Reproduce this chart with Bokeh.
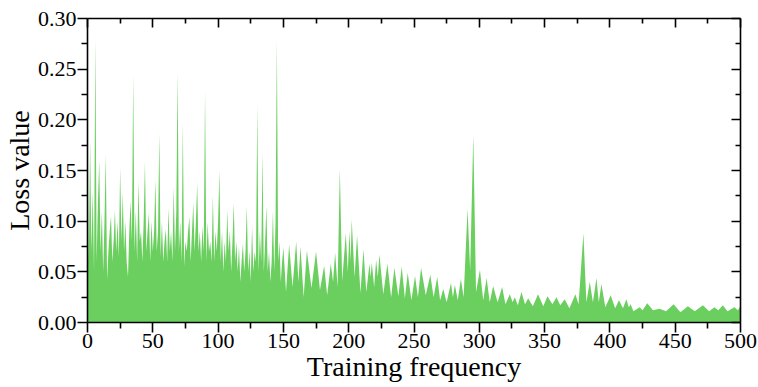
from bokeh.plotting import figure
from bokeh.models import (Range1d, LinearAxis, FixedTicker, PrintfTickFormatter,
                          CustomJSTickFormatter)
from bokeh.embed import file_html
from bokeh.resources import INLINE

# ---- data ----
freq_early = list(range(0, 151))
loss_early = [
    0.170, 0.060, 0.180, 0.070, 0.130, 0.050, 0.281, 0.060, 0.120, 0.160,
    0.070, 0.110, 0.050, 0.100, 0.166, 0.042, 0.070, 0.090, 0.105, 0.060,
    0.080, 0.111, 0.070, 0.100, 0.065, 0.153, 0.080, 0.128, 0.070, 0.100,
    0.060, 0.045, 0.090, 0.120, 0.080, 0.245, 0.070, 0.110, 0.060, 0.140,
    0.080, 0.090, 0.060, 0.100, 0.159, 0.070, 0.090, 0.108, 0.060, 0.100,
    0.070, 0.090, 0.141, 0.070, 0.090, 0.187, 0.065, 0.100, 0.060, 0.080,
    0.092, 0.060, 0.113, 0.070, 0.090, 0.060, 0.134, 0.070, 0.110, 0.247,
    0.070, 0.100, 0.060, 0.197, 0.055, 0.080, 0.070, 0.090, 0.104, 0.060,
    0.090, 0.118, 0.070, 0.100, 0.138, 0.070, 0.090, 0.060, 0.095, 0.070,
    0.229, 0.060, 0.099, 0.070, 0.080, 0.060, 0.125, 0.060, 0.090, 0.070,
    0.100, 0.150, 0.060, 0.090, 0.050, 0.080, 0.060, 0.111, 0.070, 0.090,
    0.050, 0.080, 0.118, 0.060, 0.080, 0.050, 0.075, 0.040, 0.060, 0.078,
    0.050, 0.070, 0.115, 0.050, 0.070, 0.040, 0.095, 0.050, 0.070, 0.060,
    0.215, 0.050, 0.090, 0.060, 0.168, 0.050, 0.080, 0.115, 0.050, 0.070,
    0.040, 0.060, 0.110, 0.050, 0.100, 0.279, 0.060, 0.080, 0.040, 0.060,
    0.074,
]
freq_late = [
    152, 154.4, 157, 159.8, 161.5, 163.1, 165.5, 168, 171.5, 175,
    178, 181.2, 183.5, 186.3, 188, 189.6, 191.5, 193.2, 195, 197.8,
    199.3, 200.6, 201.5, 202.3, 204.5, 206.4, 209, 211.3, 213.5, 215.9,
    216.8, 217.7, 219.5, 221, 222.3, 223.5, 226.5, 229.6, 232.5, 235,
    238, 240.6, 243, 245.2, 248, 250.8, 253, 255.4, 259, 262.5,
    265, 267.8, 270, 272.4, 275, 278.3, 279.8, 281.3, 283.5, 285.9,
    288, 291, 293, 295.4, 297.5, 300.5, 303, 305.6, 308, 310.6,
    314, 317.5, 320, 323.4, 325.5, 327.2, 329.5, 332.3, 335, 337.4,
    341, 345, 349, 352.2, 356, 359.1, 362, 365.4, 369, 373.6,
    376, 379.7, 382, 384.6, 387, 389.7, 391.5, 393.5, 396.5, 400.6,
    404, 407, 410, 412.6, 414.5, 415.9, 418, 422.8, 425, 428.6,
    433, 438, 443, 448.8, 454, 459.7, 465, 471.2, 476, 480,
    483, 486.5, 490, 495.4, 498, 500,
]
loss_late = [
    0.030, 0.077, 0.035, 0.080, 0.040, 0.075, 0.025, 0.071, 0.034, 0.070,
    0.032, 0.056, 0.027, 0.058, 0.040, 0.069, 0.035, 0.152, 0.041, 0.088,
    0.050, 0.090, 0.060, 0.102, 0.045, 0.086, 0.029, 0.072, 0.030, 0.058,
    0.045, 0.059, 0.035, 0.062, 0.045, 0.067, 0.028, 0.058, 0.025, 0.054,
    0.026, 0.055, 0.024, 0.049, 0.022, 0.046, 0.025, 0.054, 0.027, 0.047,
    0.025, 0.045, 0.022, 0.033, 0.020, 0.039, 0.025, 0.037, 0.022, 0.043,
    0.025, 0.112, 0.051, 0.185, 0.030, 0.052, 0.022, 0.044, 0.020, 0.036,
    0.020, 0.035, 0.018, 0.028, 0.020, 0.025, 0.017, 0.030, 0.018, 0.024,
    0.016, 0.028, 0.016, 0.026, 0.018, 0.025, 0.017, 0.023, 0.014, 0.028,
    0.018, 0.088, 0.020, 0.040, 0.020, 0.044, 0.020, 0.038, 0.015, 0.027,
    0.014, 0.022, 0.014, 0.023, 0.015, 0.018, 0.011, 0.015, 0.012, 0.019,
    0.012, 0.0135, 0.011, 0.018, 0.010, 0.016, 0.011, 0.017, 0.011, 0.015,
    0.012, 0.017, 0.011, 0.015, 0.012, 0.016,
]
freq = freq_early + freq_late
loss = loss_early + loss_late

x_major = [0, 50, 100, 150, 200, 250, 300, 350, 400, 450, 500]
x_minor = [25, 75, 125, 175, 225, 275, 325, 375, 425, 475]
y_major = [0.00, 0.05, 0.10, 0.15, 0.20, 0.25, 0.30]
y_minor = [0.025, 0.075, 0.125, 0.175, 0.225, 0.275]

x_title = "Training frequency"
y_title = "Loss value"

FONT = "Liberation Serif"
GREEN = "#6bcf60"

p = figure(width=758, height=387, output_backend="svg", toolbar_location=None,
           x_range=Range1d(0, 500), y_range=Range1d(0, 0.30),
           min_border_left=86, min_border_right=18, min_border_top=18,
           min_border_bottom=65)
p.outline_line_color = None
p.xgrid.visible = False
p.ygrid.visible = False
p.background_fill_color = "white"
p.border_fill_color = "white"

p.varea(x=freq, y1=[0] * len(freq), y2=loss, fill_color=GREEN)

xt = FixedTicker(ticks=x_major, minor_ticks=x_minor)
yt = FixedTicker(ticks=y_major, minor_ticks=y_minor)

def style(ax, ticks_in):
    ax.axis_line_color = "black"
    ax.axis_line_width = 1.6
    ax.major_tick_line_color = "black"
    ax.major_tick_line_width = 1.6
    ax.minor_tick_line_color = "black"
    ax.minor_tick_line_width = 1.6
    if ticks_in:
        ax.major_tick_in, ax.major_tick_out = 9, 0
        ax.minor_tick_in, ax.minor_tick_out = 5, 0
        ax.formatter = CustomJSTickFormatter(code="return '';")
        ax.major_label_standoff = 0
    else:
        ax.major_tick_in, ax.major_tick_out = 0, 10
        ax.minor_tick_in, ax.minor_tick_out = 0, 6
        ax.major_label_text_font = "Times New Roman"
        ax.major_label_text_font_style = "normal"
        ax.major_label_text_font_size = "22px"
        ax.major_label_text_color = "black"
        ax.major_label_standoff = 1
        ax.axis_label_text_font = FONT
        ax.axis_label_text_font_size = "28px"
        ax.axis_label_text_font_style = "normal"
        ax.axis_label_text_color = "black"
        ax.axis_label_standoff = 0

xa = p.xaxis[0]
xa.ticker = xt
xa.axis_label = x_title
style(xa, False)

ya = p.yaxis[0]
ya.ticker = yt
ya.formatter = PrintfTickFormatter(format="%.2f")
ya.axis_label = y_title
style(ya, False)

top = LinearAxis(ticker=xt)
style(top, True)
p.add_layout(top, "above")

right = LinearAxis(ticker=yt)
style(right, True)
p.add_layout(right, "right")

open("out.html", "w").write(file_html(p, INLINE))
